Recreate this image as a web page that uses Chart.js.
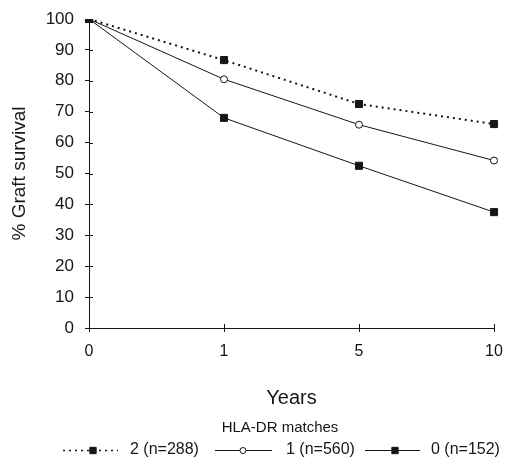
<!DOCTYPE html>
<html>
<head>
<meta charset="utf-8">
<script src="https://cdn.jsdelivr.net/npm/chart.js@4.4.1/dist/chart.umd.min.js"></script>
<style>
  html, body { margin: 0; padding: 0; background: #fff; }
  #wrap { width: 505px; height: 460px; }
</style>
</head>
<body>
<div id="wrap"><canvas id="chart" width="505" height="460"></canvas></div>
<script>
// Data
const years = ['0', '1', '5', '10'];
const match2 = [100, 86.7, 72.5, 66.0];   // 2 (n=288), dotted, filled squares
const match1 = [100, 80.5, 65.8, 54.2];   // 1 (n=560), solid, open circles
const match0 = [100, 68.0, 52.5, 37.5];   // 0 (n=152), solid, filled squares
const seriesLabels = ['2 (n=288)', '1 (n=560)', '0 (n=152)'];
const legendTitle = 'HLA-DR matches';

const ink = '#161616';
const fontFamily = '"Liberation Sans", Arial, Helvetica, sans-serif';

// small ticks that cross the axis line (inside part; outside part is Chart.js grid tick)
const crossTicks = {
    id: 'crossTicks',
    afterDraw(chart) {
        const { ctx, chartArea, scales } = chart;
        ctx.save();
        ctx.strokeStyle = ink;
        ctx.lineWidth = 1;
        scales.y.ticks.forEach((t, i) => {
            const y = Math.round(scales.y.getPixelForTick(i)) + 0.5;
            ctx.beginPath();
            ctx.moveTo(chartArea.left, y);
            ctx.lineTo(chartArea.left + 4, y);
            ctx.stroke();
        });
        scales.x.ticks.forEach((t, i) => {
            const x = Math.round(scales.x.getPixelForTick(i)) + 0.5;
            ctx.beginPath();
            ctx.moveTo(x, chartArea.bottom);
            ctx.lineTo(x, chartArea.bottom - 4);
            ctx.stroke();
        });
        ctx.restore();
    }
};

// legend drawn under the axis title, styled like the original figure
const figureLegend = {
    id: 'figureLegend',
    afterDraw(chart) {
        const ctx = chart.ctx;
        ctx.save();
        ctx.fillStyle = ink;
        ctx.font = '15px ' + fontFamily;
        ctx.textBaseline = 'middle';
        ctx.textAlign = 'center';
        ctx.fillText(legendTitle, 280, 428);

        const rowY = 450;
        const items = [
            { x0: 63, x1: 118, mx: 93, tx: 130 },
            { x0: 215, x1: 272, mx: 243, tx: 286 },
            { x0: 365, x1: 420, mx: 395, tx: 431 }
        ];
        ctx.font = '16px ' + fontFamily;
        chart.data.datasets.forEach((ds, i) => {
            const it = items[i];
            ctx.save();
            ctx.strokeStyle = ink;
            ctx.lineWidth = ds.borderDash ? 1.5 : ds.borderWidth;
            ctx.setLineDash(ds.borderDash || []);
            ctx.beginPath();
            ctx.moveTo(it.x0, rowY + 0.5);
            ctx.lineTo(it.x1, rowY + 0.5);
            ctx.stroke();
            ctx.restore();
            ctx.save();
            ctx.fillStyle = ds.pointBackgroundColor;
            ctx.strokeStyle = ds.pointBorderColor;
            ctx.lineWidth = ds.pointBorderWidth;
            Chart.helpers.drawPoint(ctx, {
                pointStyle: ds.pointStyle,
                radius: ds.pointStyle === 'circle' ? 3 : 4.5,
                borderWidth: ds.pointBorderWidth
            }, it.mx, rowY + 0.5);
            ctx.restore();
            ctx.fillStyle = ink;
            ctx.textAlign = 'left';
            ctx.fillText(seriesLabels[i], it.tx, rowY);
        });
        ctx.restore();
    }
};

const ctx = document.getElementById('chart').getContext('2d');
new Chart(ctx, {
    type: 'line',
    data: {
        labels: years,
        datasets: [
            {
                label: seriesLabels[0],
                data: match2,
                borderColor: ink,
                borderWidth: 2,
                borderDash: [2, 4],
                pointStyle: 'rect',
                pointRadius: 5,
                pointBackgroundColor: ink,
                pointBorderColor: ink,
                pointBorderWidth: 1,
                fill: false,
                tension: 0
            },
            {
                label: seriesLabels[1],
                data: match1,
                borderColor: ink,
                borderWidth: 1,
                pointStyle: 'circle',
                pointRadius: 3.5,
                pointBackgroundColor: '#fff',
                pointBorderColor: ink,
                pointBorderWidth: 1,
                fill: false,
                tension: 0
            },
            {
                label: seriesLabels[2],
                data: match0,
                borderColor: ink,
                borderWidth: 1,
                pointStyle: 'rect',
                pointRadius: 5,
                pointBackgroundColor: ink,
                pointBorderColor: ink,
                pointBorderWidth: 1,
                fill: false,
                tension: 0
            }
        ]
    },
    options: {
        responsive: false,
        animation: false,
        layout: { padding: { top: 19, right: 11, left: 0, bottom: 0 } },
        plugins: {
            legend: { display: false },
            tooltip: { enabled: false }
        },
        scales: {
            x: {
                offset: false,
                grid: { drawOnChartArea: false, tickLength: 4, color: ink },
                border: { display: true, color: ink, width: 1 },
                ticks: { color: ink, padding: 10, font: { size: 16, family: fontFamily } },
                title: {
                    display: true,
                    text: 'Years',
                    color: ink,
                    font: { size: 20, family: fontFamily },
                    padding: { top: 0, bottom: 50 }
                },
                afterFit(scale) {
                    scale.height = 132;
                    scale.paddingLeft = 0;
                    scale.paddingRight = 0;
                }
            },
            y: {
                min: 0,
                max: 100,
                ticks: { stepSize: 10, color: ink, padding: 11, font: { size: 17, family: fontFamily } },
                grid: { drawOnChartArea: false, tickLength: 4, color: ink },
                border: { display: true, color: ink, width: 1 },
                title: {
                    display: true,
                    text: '% Graft survival',
                    color: ink,
                    font: { size: 19, family: fontFamily },
                    padding: { top: 8, bottom: 0 }
                },
                afterFit(scale) {
                    scale.width = 89;
                    scale.paddingTop = 0;
                    scale.paddingBottom = 0;
                }
            }
        }
    },
    plugins: [crossTicks, figureLegend]
});
</script>
</body>
</html>
